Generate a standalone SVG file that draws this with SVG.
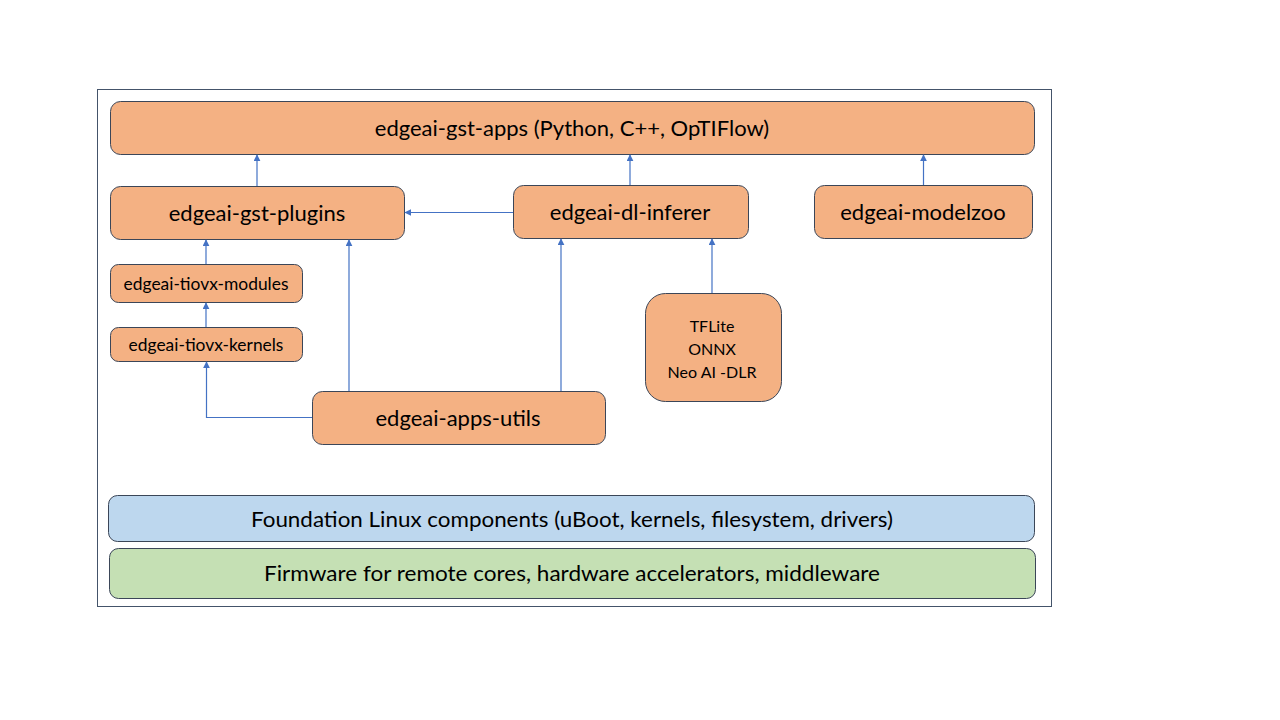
<svg xmlns="http://www.w3.org/2000/svg" width="1280" height="720" viewBox="0 0 1280 720">
<defs>
<marker id="ah" viewBox="0 0 10 10" refX="9" refY="5" markerWidth="7" markerHeight="7" markerUnits="userSpaceOnUse" orient="auto">
<path d="M0,0 L10,5 L0,10 z" fill="#4472C4"/>
</marker>
<style>
.n{fill:#F4B183;stroke:#3B4658;stroke-width:1}
.t{font-family:Lato,"Open Sans","Noto Sans",sans-serif;fill:#000;text-anchor:middle;dominant-baseline:central}
.c{fill:none;stroke:#4472C4;stroke-width:1.2;marker-end:url(#ah)}
</style>
</defs>
<rect width="1280" height="720" fill="#fff"/>
<rect x="97.5" y="89.5" width="954" height="517" fill="none" stroke="#44546A" stroke-width="1"/>
<g id="gst-apps"><rect class="n" x="110.5" y="101.5" width="924" height="53" rx="10"/><text class="t" x="572" y="127.5" font-size="22">edgeai-gst-apps (Python, C++, OpTIFlow)</text></g>
<g id="gst-plugins"><rect class="n" x="110.5" y="186.5" width="294" height="53" rx="10"/><text class="t" x="257" y="212.5" font-size="22">edgeai-gst-plugins</text></g>
<g id="dl-inferer"><rect class="n" x="513.5" y="185.5" width="235" height="53" rx="10"/><text class="t" x="630" y="211.5" font-size="22">edgeai-dl-inferer</text></g>
<g id="modelzoo"><rect class="n" x="814.5" y="185.5" width="218" height="53" rx="10"/><text class="t" x="923" y="211.5" font-size="22">edgeai-modelzoo</text></g>
<g id="tiovx-modules"><rect class="n" x="110.5" y="264.5" width="192" height="38" rx="8"/><text class="t" x="206" y="283" font-size="17.4">edgeai-tiovx-modules</text></g>
<g id="tiovx-kernels"><rect class="n" x="110.5" y="327.5" width="192" height="34" rx="8"/><text class="t" x="206" y="344" font-size="17.4">edgeai-tiovx-kernels</text></g>
<g id="apps-utils"><rect class="n" x="312.5" y="391.5" width="293" height="53" rx="10"/><text class="t" x="458" y="417.5" font-size="22">edgeai-apps-utils</text></g>
<g id="runtimes"><rect class="n" x="645.5" y="293.5" width="136" height="108" rx="20"/><text class="t" x="712" y="325.5" font-size="16">TFLite</text><text class="t" x="712" y="348.5" font-size="16">ONNX</text><text class="t" x="712" y="371.5" font-size="16">Neo AI -DLR</text></g>
<g id="foundation"><rect x="108.5" y="495.5" width="926" height="46" rx="9" fill="#BDD7EE" stroke="#3B4658"/><text class="t" x="572" y="518.5" font-size="22" textLength="642" lengthAdjust="spacingAndGlyphs">Foundation Linux components (uBoot, kernels, filesystem, drivers)</text></g>
<g id="firmware"><rect x="109.5" y="548.5" width="926" height="50" rx="9" fill="#C5E0B4" stroke="#3B4658"/><text class="t" x="572" y="572.5" font-size="22" textLength="616" lengthAdjust="spacingAndGlyphs">Firmware for remote cores, hardware accelerators, middleware</text></g>
<g id="connectors">
<path class="c" d="M257,186 V155"/>
<path class="c" d="M630,185 V155"/>
<path class="c" d="M923.5,185 V155"/>
<path class="c" d="M513,212.5 H405"/>
<path class="c" d="M206,264 V240"/>
<path class="c" d="M206,327 V303"/>
<path class="c" d="M312,417.5 H206.5 V362"/>
<path class="c" d="M349,391 V240"/>
<path class="c" d="M561,391 V239"/>
<path class="c" d="M712,293 V239"/>
</g>
</svg>
